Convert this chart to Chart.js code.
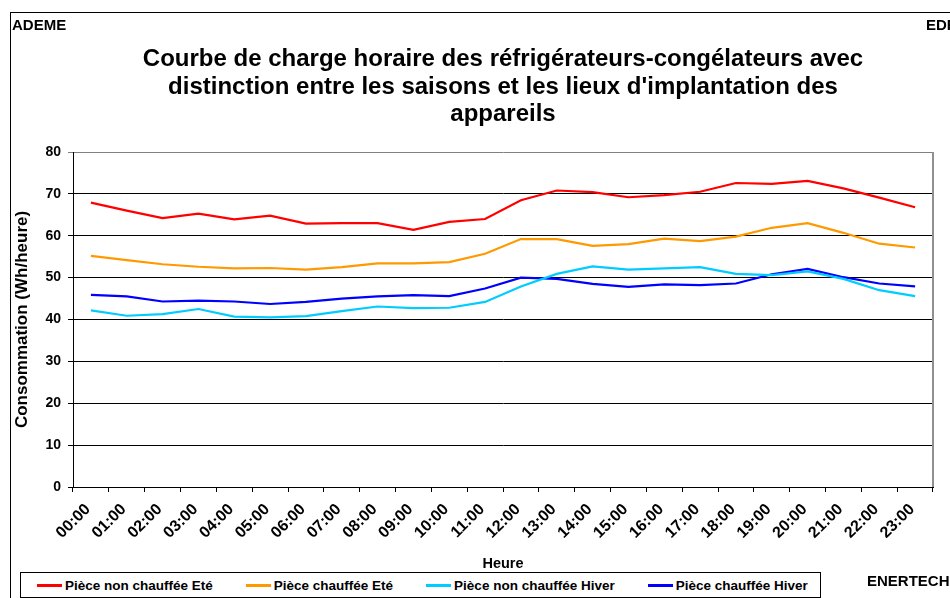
<!DOCTYPE html>
<html>
<head>
<meta charset="utf-8">
<script src="https://cdn.jsdelivr.net/npm/chart.js@4/dist/chart.umd.min.js"></script>
<style>
  html, body { margin: 0; padding: 0; background: #fff; width: 950px; height: 598px; overflow: hidden; }
  body { position: relative; font-family: "Liberation Sans", Arial, sans-serif; }
  #frame { position: absolute; left: 10px; top: 12px; width: 960px; height: 600px; border-left: 1px solid #000; border-top: 1px solid #000; box-sizing: border-box; }
  #chartWrap { position: absolute; left: 0; top: 0; width: 950px; height: 598px; }
  .corner { position: absolute; font-weight: bold; font-size: 15px; color: #000; white-space: nowrap; }
  #title { position: absolute; left: 73px; width: 860px; top: 44px; text-align: center; font-weight: bold; font-size: 24px; line-height: 27.5px; color: #000; }
  #legend { position: absolute; left: 20px; top: 572px; width: 801px; height: 26px; border: 1px solid #000; box-sizing: border-box; display: flex; align-items: center; padding-left: 16px; gap: 33px; background: #fff; }
  .item { display: flex; align-items: center; font-weight: bold; font-size: 13.5px; white-space: nowrap; }
  .swatch { width: 25px; height: 3px; margin-right: 3px; }
</style>
</head>
<body>
<div id="frame"></div>
<div id="chartWrap"><canvas id="c" width="950" height="598"></canvas></div>
<div class="corner" style="left:12px; top:16px;">ADEME</div>
<div class="corner" style="left:926px; top:16px;">EDF</div>
<div class="corner" style="left:867px; top:572px;">ENERTECH</div>
<div id="title">Courbe de charge horaire des réfrigérateurs-congélateurs avec<br>distinction entre les saisons et les lieux d'implantation des<br>appareils</div>
<div id="legend"></div>
<script>
const hours = ["00:00","01:00","02:00","03:00","04:00","05:00","06:00","07:00","08:00","09:00","10:00","11:00",
               "12:00","13:00","14:00","15:00","16:00","17:00","18:00","19:00","20:00","21:00","22:00","23:00"];

const seriesNames = ["Pièce non chauffée Eté", "Pièce chauffée Eté", "Pièce non chauffée Hiver", "Pièce chauffée Hiver"];
const seriesColors = ["#FF0000", "#FF9900", "#00CCFF", "#0000FF"];

const nonChauffeeEte = [67.9, 66.0, 64.2, 65.3, 63.9, 64.8, 62.9, 63.0, 63.0, 61.4, 63.3, 64.0,
                        68.5, 70.8, 70.4, 69.2, 69.7, 70.5, 72.6, 72.4, 73.1, 71.3, 69.1, 66.8];
const chauffeeEte    = [55.2, 54.2, 53.2, 52.6, 52.2, 52.3, 51.9, 52.5, 53.4, 53.4, 53.7, 55.7,
                        59.2, 59.2, 57.6, 58.0, 59.3, 58.7, 59.8, 61.9, 63.0, 60.7, 58.1, 57.2];
const nonChauffeeHiver = [42.2, 40.9, 41.3, 42.5, 40.7, 40.5, 40.8, 42.0, 43.1, 42.7, 42.8, 44.2,
                          47.9, 50.9, 52.7, 51.9, 52.2, 52.5, 50.9, 50.6, 51.5, 49.7, 47.0, 45.6];
const chauffeeHiver  = [45.9, 45.5, 44.3, 44.5, 44.3, 43.7, 44.2, 45.0, 45.5, 45.8, 45.6, 47.4,
                        50.0, 49.7, 48.5, 47.8, 48.4, 48.2, 48.6, 50.8, 52.1, 50.1, 48.6, 47.9];

const yMin = 0, yMax = 80, yStep = 10;

const allSeries = [nonChauffeeEte, chauffeeEte, nonChauffeeHiver, chauffeeHiver];

// HTML legend built from the series names/colours
const legendEl = document.getElementById('legend');
seriesNames.forEach((name, i) => {
  const it = document.createElement('div');
  it.className = 'item';
  const sw = document.createElement('span');
  sw.className = 'swatch';
  sw.style.background = seriesColors[i];
  it.appendChild(sw);
  it.appendChild(document.createTextNode(name));
  legendEl.appendChild(it);
});

const FONT = '"Liberation Sans", Arial, sans-serif';

const plotBorder = {
  id: 'plotBorder',
  afterDraw(chart) {
    const a = chart.chartArea, ctx = chart.ctx;
    ctx.save();
    ctx.strokeStyle = '#909090';
    ctx.lineWidth = 2;
    ctx.beginPath();
    ctx.moveTo(a.right, a.top);
    ctx.lineTo(a.right, a.bottom);
    ctx.stroke();
    ctx.restore();
  }
};

new Chart(document.getElementById('c'), {
  type: 'line',
  data: {
    labels: hours,
    datasets: allSeries.map((d, i) => ({
      label: seriesNames[i],
      data: d,
      borderColor: seriesColors[i],
      backgroundColor: seriesColors[i],
      borderWidth: 2.2,
      pointRadius: 0,
      tension: 0,
      fill: false
    }))
  },
  options: {
    responsive: false,
    animation: false,
    layout: { padding: { top: 152, left: 10, right: 17, bottom: 25 } },
    plugins: {
      legend: { display: false },
      title: { display: false },
      tooltip: { enabled: false }
    },
    scales: {
      x: {
        offset: true,
        grid: { offset: true, drawOnChartArea: false, drawTicks: true, tickLength: 5, color: '#000', lineWidth: 1 },
        border: { display: true, color: '#000', width: 1 },
        ticks: { maxRotation: 45, minRotation: 45, autoSkip: false, padding: 8, labelOffset: -3, color: '#000',
                 font: { family: FONT, size: 16, weight: 'bold' } },
        title: { display: true, text: 'Heure', color: '#000', padding: { top: 4, bottom: 0 },
                 font: { family: FONT, size: 14.5, weight: 'bold' } },
        afterFit(scale) { scale.height = 86; }
      },
      y: {
        min: yMin, max: yMax,
        grid: { drawTicks: true, tickLength: 5, lineWidth: 1,
                color: (ctx) => (ctx.tick && ctx.tick.value === yMax) ? '#808080' : '#000' },
        border: { display: true, color: '#000', width: 1 },
        ticks: { stepSize: yStep, padding: 7, color: '#000',
                 font: { family: FONT, size: 14, weight: 'bold' } },
        title: { display: true, text: 'Consommation (Wh/heure)', color: '#000', padding: { top: 2, bottom: 0 },
                 font: { family: FONT, size: 17, weight: 'bold' } },
        afterFit(scale) { scale.width = 63; }
      }
    }
  },
  plugins: [plotBorder]
});
</script>
</body>
</html>
